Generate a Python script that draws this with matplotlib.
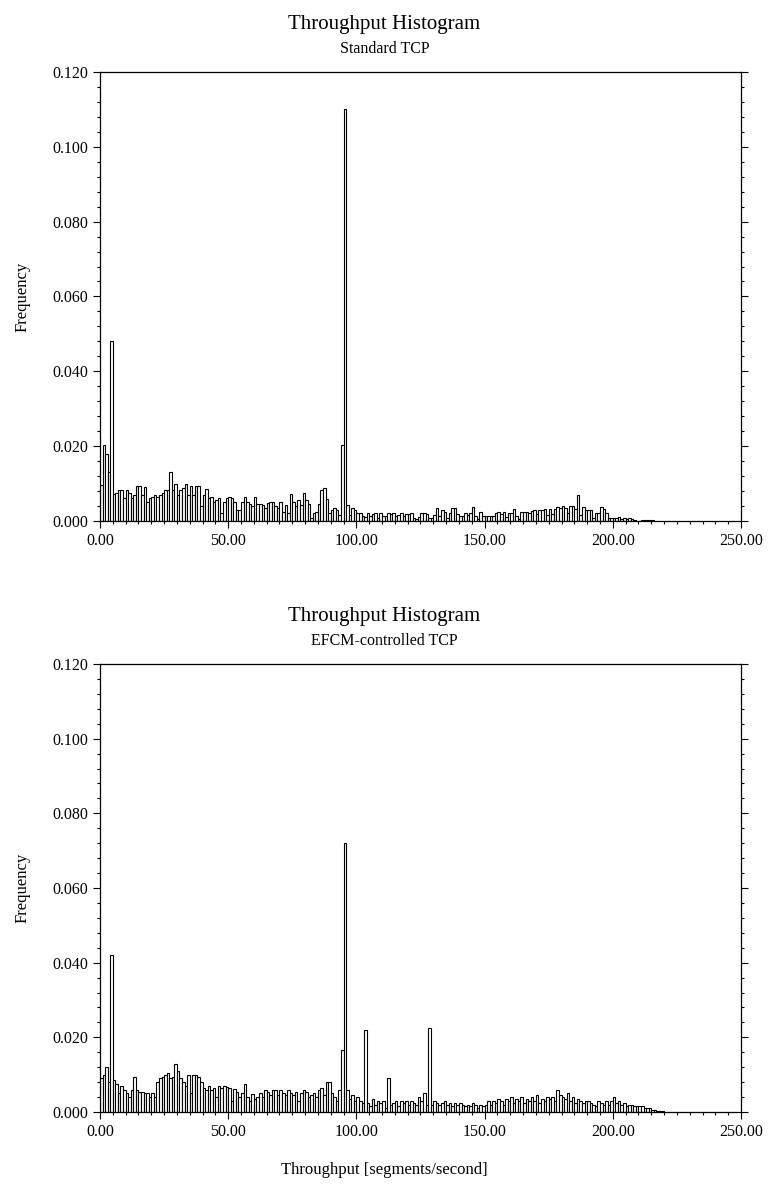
import matplotlib
matplotlib.use("Agg")
import matplotlib.pyplot as plt
from matplotlib.ticker import MultipleLocator, FormatStrFormatter
import numpy as np

plt.rcParams['font.family'] = ['Liberation Serif', 'DejaVu Serif']

# histogram bins: width 1 segment/s, starting at 0
standard_tcp = [
    0.0096, 0.0203, 0.0180, 0.0130, 0.0480, 0.0071, 0.0074, 0.0083, 0.0083, 0.0060,
    0.0083, 0.0074, 0.0060, 0.0070, 0.0093, 0.0093, 0.0070, 0.0090, 0.0050, 0.0062,
    0.0065, 0.0068, 0.0065, 0.0068, 0.0075, 0.0082, 0.0083, 0.0130, 0.0083, 0.0100,
    0.0068, 0.0083, 0.0088, 0.0100, 0.0070, 0.0093, 0.0070, 0.0093, 0.0093, 0.0040,
    0.0068, 0.0085, 0.0060, 0.0065, 0.0050, 0.0055, 0.0060, 0.0020, 0.0050, 0.0062,
    0.0064, 0.0060, 0.0050, 0.0030, 0.0030, 0.0050, 0.0065, 0.0050, 0.0045, 0.0040,
    0.0065, 0.0045, 0.0045, 0.0042, 0.0035, 0.0048, 0.0050, 0.0050, 0.0040, 0.0035,
    0.0050, 0.0025, 0.0042, 0.0020, 0.0072, 0.0050, 0.0040, 0.0055, 0.0042, 0.0075,
    0.0055, 0.0045, 0.0008, 0.0022, 0.0025, 0.0045, 0.0082, 0.0089, 0.0058, 0.0022,
    0.0030, 0.0035, 0.0030, 0.0016, 0.0203, 0.1100, 0.0042, 0.0016, 0.0035, 0.0030,
    0.0021, 0.0022, 0.0013, 0.0011, 0.0020, 0.0012, 0.0018, 0.0020, 0.0009, 0.0020,
    0.0013, 0.0012, 0.0020, 0.0018, 0.0022, 0.0013, 0.0015, 0.0020, 0.0012, 0.0018,
    0.0018, 0.0022, 0.0008, 0.0005, 0.0010, 0.0020, 0.0020, 0.0018, 0.0009, 0.0009,
    0.0016, 0.0034, 0.0013, 0.0029, 0.0025, 0.0007, 0.0020, 0.0034, 0.0034, 0.0018,
    0.0012, 0.0012, 0.0021, 0.0016, 0.0021, 0.0036, 0.0013, 0.0005, 0.0024, 0.0012,
    0.0012, 0.0012, 0.0012, 0.0012, 0.0022, 0.0024, 0.0018, 0.0024, 0.0011, 0.0020,
    0.0020, 0.0031, 0.0013, 0.0005, 0.0024, 0.0024, 0.0024, 0.0020, 0.0027, 0.0029,
    0.0018, 0.0029, 0.0029, 0.0031, 0.0016, 0.0031, 0.0018, 0.0033, 0.0038, 0.0034,
    0.0041, 0.0034, 0.0022, 0.0040, 0.0041, 0.0031, 0.0069, 0.0016, 0.0036, 0.0029,
    0.0029, 0.0029, 0.0007, 0.0020, 0.0020, 0.0036, 0.0031, 0.0020, 0.0007, 0.0007,
    0.0007, 0.0007, 0.0010, 0.0004, 0.0007, 0.0004, 0.0007, 0.0004, 0.0002, 0.0000,
    0.0000, 0.0002, 0.0002, 0.0003, 0.0003, 0.0003,
]

efcm_tcp = [
    0.0090, 0.0100, 0.0120, 0.0080, 0.0420, 0.0085, 0.0075, 0.0050, 0.0070, 0.0060,
    0.0050, 0.0040, 0.0060, 0.0093, 0.0060, 0.0055, 0.0055, 0.0050, 0.0050, 0.0040,
    0.0050, 0.0040, 0.0080, 0.0090, 0.0095, 0.0100, 0.0105, 0.0090, 0.0095, 0.0128,
    0.0110, 0.0090, 0.0080, 0.0070, 0.0098, 0.0050, 0.0098, 0.0098, 0.0095, 0.0080,
    0.0065, 0.0060, 0.0070, 0.0060, 0.0065, 0.0040, 0.0070, 0.0065, 0.0070, 0.0068,
    0.0065, 0.0030, 0.0062, 0.0055, 0.0040, 0.0050, 0.0075, 0.0040, 0.0030, 0.0048,
    0.0035, 0.0040, 0.0050, 0.0040, 0.0060, 0.0055, 0.0045, 0.0058, 0.0060, 0.0045,
    0.0060, 0.0050, 0.0045, 0.0060, 0.0050, 0.0045, 0.0055, 0.0030, 0.0050, 0.0060,
    0.0055, 0.0040, 0.0045, 0.0050, 0.0040, 0.0060, 0.0065, 0.0045, 0.0080, 0.0080,
    0.0050, 0.0040, 0.0030, 0.0060, 0.0165, 0.0720, 0.0060, 0.0035, 0.0045, 0.0030,
    0.0040, 0.0030, 0.0025, 0.0220, 0.0025, 0.0015, 0.0035, 0.0020, 0.0030, 0.0025,
    0.0030, 0.0010, 0.0090, 0.0020, 0.0025, 0.0030, 0.0015, 0.0030, 0.0025, 0.0030,
    0.0020, 0.0030, 0.0025, 0.0020, 0.0040, 0.0030, 0.0050, 0.0020, 0.0225, 0.0020,
    0.0030, 0.0025, 0.0020, 0.0025, 0.0030, 0.0020, 0.0025, 0.0015, 0.0025, 0.0020,
    0.0025, 0.0020, 0.0015, 0.0020, 0.0015, 0.0025, 0.0020, 0.0010, 0.0020, 0.0015,
    0.0020, 0.0030, 0.0020, 0.0030, 0.0025, 0.0035, 0.0030, 0.0020, 0.0035, 0.0030,
    0.0040, 0.0025, 0.0035, 0.0030, 0.0040, 0.0025, 0.0035, 0.0030, 0.0040, 0.0030,
    0.0045, 0.0025, 0.0035, 0.0030, 0.0040, 0.0035, 0.0040, 0.0030, 0.0060, 0.0045,
    0.0040, 0.0035, 0.0050, 0.0030, 0.0040, 0.0025, 0.0035, 0.0030, 0.0025, 0.0030,
    0.0030, 0.0025, 0.0020, 0.0015, 0.0030, 0.0025, 0.0020, 0.0030, 0.0020, 0.0030,
    0.0040, 0.0025, 0.0030, 0.0020, 0.0025, 0.0015, 0.0020, 0.0020, 0.0015, 0.0015,
    0.0015, 0.0015, 0.0010, 0.0010, 0.0010, 0.0005, 0.0005, 0.0003, 0.0002, 0.0002,
]

panels = [
    ("Standard TCP", standard_tcp),
    ("EFCM-controlled TCP", efcm_tcp),
]

fig = plt.figure(figsize=(7.69, 11.91), dpi=100)
axes_rects = [
    [0.130, 0.5626, 0.8336, 0.3770],
    [0.130, 0.0663, 0.8336, 0.3762],
]

for (subtitle, freq), rect in zip(panels, axes_rects):
    ax = fig.add_axes(rect)
    freq = np.array(freq)
    edges = np.arange(len(freq))
    ax.bar(edges, freq, width=1.0, align='edge', facecolor='white',
           edgecolor='black', linewidth=0.8)

    ax.set_xlim(0, 250)
    ax.set_ylim(0, 0.12)
    ax.xaxis.set_major_locator(MultipleLocator(50))
    ax.xaxis.set_minor_locator(MultipleLocator(5))
    ax.yaxis.set_major_locator(MultipleLocator(0.02))
    ax.yaxis.set_minor_locator(MultipleLocator(0.004))
    ax.xaxis.set_major_formatter(FormatStrFormatter('%.2f'))
    ax.yaxis.set_major_formatter(FormatStrFormatter('%.3f'))
    ax.tick_params(which='both', direction='out', top=False, right=True,
                   labelright=False, labelsize=11.5, width=0.8)
    ax.tick_params(which='major', length=5)
    ax.tick_params(which='minor', length=2.5)
    for s in ax.spines.values():
        s.set_linewidth(0.9)
    ax.set_ylabel("Frequency", fontsize=12, labelpad=16)

    top = rect[1] + rect[3]
    fig.text(0.5, top + 0.040, "Throughput Histogram", ha='center',
             va='center', fontsize=15)
    fig.text(0.5, top + 0.019, subtitle, ha='center', va='center',
             fontsize=11.5)

fig.text(0.5, 0.018, "Throughput [segments/second]", ha='center',
         va='center', fontsize=12)

fig.savefig("out.png", dpi=100)
